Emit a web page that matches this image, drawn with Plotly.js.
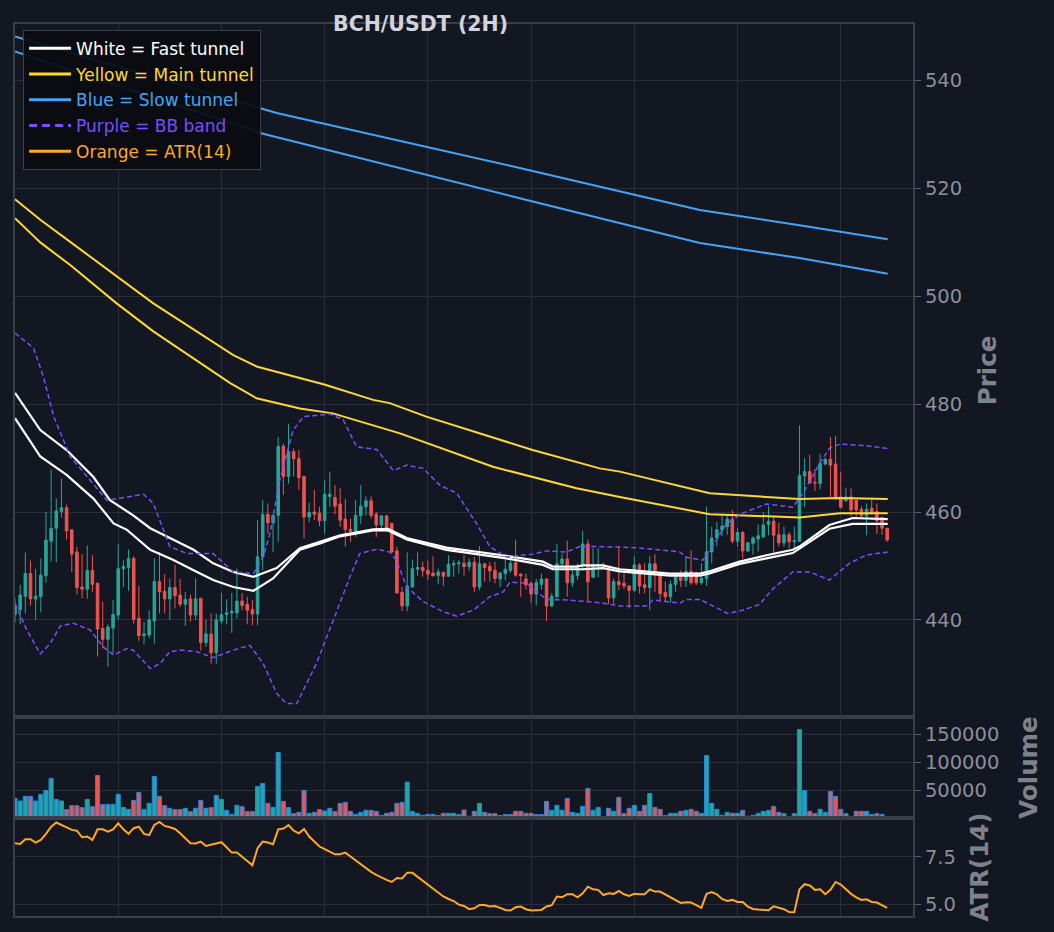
<!DOCTYPE html>
<html>
<head>
<meta charset="utf-8">
<script src="https://cdn.plot.ly/plotly-3.0.1.min.js"></script>
<style>
html,body{margin:0;padding:0;background:#131722;}
#chart{width:1054px;height:932px;}
</style>
</head>
<body>
<div id="chart"></div>
<script>
// ---------- Candles (2H bars, index 0..169) ----------
const openP = [441.0,441.9,444.4,448.6,443.9,444.3,448.2,454.6,457.0,460.1,460.8,456.7,452.6,446.1,445.7,449.2,446.8,438.4,436.4,438.5,440.9,449.5,449.7,451.4,440.3,437.1,437.2,439.8,447.1,445.3,443.9,446.0,444.6,442.9,443.9,440.9,444.0,435.8,437.4,433.9,439.8,441.0,441.3,441.3,443.5,442.9,441.9,441.1,451.7,459.6,458.0,459.4,472.2,466.6,471.2,469.9,466.6,459.1,460.0,459.8,458.4,462.9,462.7,461.5,458.7,456.8,456.4,459.3,461.0,462.1,459.6,457.6,459.3,457.9,452.8,445.1,442.6,446.1,449.4,449.7,449.2,448.7,448.2,448.8,448.1,450.2,450.4,450.5,449.9,450.7,446.1,450.4,449.9,449.2,447.6,448.6,449.2,450.6,448.5,447.6,446.8,444.8,446.6,447.6,442.6,444.3,450.4,451.3,446.9,448.2,450.0,454.1,447.9,450.0,450.2,449.1,444.1,447.1,446.8,446.3,445.5,450.2,446.5,446.0,450.4,448.2,445.1,444.3,446.6,447.9,447.3,449.0,448.8,446.9,447.7,452.6,455.2,456.7,457.3,458.7,454.6,456.2,452.8,454.2,455.0,455.4,457.7,458.3,455.8,454.3,455.8,454.5,454.6,466.7,467.5,465.5,465.3,468.9,469.8,468.9,462.8,462.1,462.8,462.2,460.5,459.3,460.7,460.1,459.0,457.0];
const highP = [444.0,446.5,452.5,451.0,449.5,451.4,460.0,467.9,462.5,466.2,461.4,456.8,453.6,452.2,453.8,452.0,446.9,443.4,439.2,443.7,454.0,451.1,453.1,451.8,446.3,439.6,441.8,451.4,452.6,448.5,447.7,450.2,447.6,445.2,444.7,447.7,444.1,440.1,441.2,441.2,445.0,443.8,445.0,449.5,445.0,444.3,443.7,458.5,462.2,461.6,459.6,473.9,472.7,476.4,471.8,471.5,466.7,461.7,464.1,461.0,465.9,467.5,465.0,464.4,462.4,458.8,462.2,465.0,462.9,462.9,460.0,459.4,459.4,458.0,453.6,446.1,452.5,451.2,452.5,450.8,451.0,451.8,449.5,449.0,452.0,451.1,451.1,452.0,451.4,451.7,453.7,450.5,450.7,450.8,448.9,451.4,451.7,454.9,448.6,448.6,447.1,447.6,448.6,447.7,445.0,454.1,452.3,454.7,450.1,450.5,456.5,454.9,453.3,453.3,450.6,449.5,447.7,453.7,448.6,446.4,451.8,450.5,450.5,451.8,452.2,448.2,447.1,447.3,448.4,449.2,451.8,452.9,448.9,450.5,461.0,457.3,458.2,459.4,459.4,460.4,457.0,456.5,454.5,455.5,457.7,460.0,461.1,459.1,458.0,457.3,456.3,457.3,476.1,470.0,470.6,468.0,470.8,470.0,473.9,474.1,467.5,464.5,464.4,462.2,461.1,461.6,462.4,461.6,459.1,457.0];
const lowP = [439.5,439.2,441.2,442.7,440.0,441.4,446.9,450.8,450.7,459.0,454.9,448.9,444.7,444.0,443.9,445.2,433.2,434.7,431.3,433.8,440.0,446.1,445.4,439.3,436.1,435.5,436.6,435.6,441.2,441.2,440.0,442.1,442.4,438.9,439.7,440.0,434.3,435.0,431.9,431.9,439.2,439.2,437.6,440.3,441.8,439.2,439.0,439.0,449.2,456.0,452.6,454.5,463.2,465.3,466.6,464.1,455.1,458.1,458.5,457.4,456.0,461.0,459.6,457.3,453.6,454.5,455.4,457.8,459.3,458.8,455.4,456.4,456.4,452.5,444.9,441.6,441.6,446.0,448.2,448.0,447.4,448.0,446.6,446.3,448.0,448.0,448.6,448.2,449.1,445.2,445.5,447.1,447.1,446.8,446.1,447.4,448.8,448.0,444.3,445.6,443.1,442.7,445.6,439.8,442.4,443.9,449.2,444.3,446.1,447.4,449.1,443.4,447.9,447.9,449.6,442.9,442.9,445.5,445.7,442.1,445.2,444.9,444.9,441.8,445.2,443.4,443.4,443.2,445.2,446.1,446.1,446.5,446.5,446.5,446.3,450.5,453.6,455.5,455.8,454.2,453.6,451.4,452.6,452.1,452.7,455.2,455.7,452.0,453.6,453.6,453.3,453.3,454.5,460.9,465.3,463.9,464.2,468.7,462.8,462.2,460.7,461.9,459.2,459.1,459.1,455.7,459.5,455.9,455.8,454.5];
const closeP = [442.5,444.6,448.6,443.9,444.4,448.3,454.8,457.0,460.2,460.8,456.5,452.2,446.0,445.7,449.2,446.6,438.3,436.4,438.7,441.0,449.5,449.9,451.4,440.1,437.1,437.4,440.0,447.1,445.2,443.9,446.0,444.5,442.9,443.8,440.9,443.9,435.8,437.4,433.9,440.0,441.0,441.3,441.6,443.5,442.7,441.8,441.1,451.7,459.6,458.0,459.4,472.2,466.6,471.2,469.9,466.4,459.1,459.9,459.6,458.4,463.3,463.3,461.1,458.5,456.8,456.4,459.4,461.1,462.1,459.4,457.6,459.3,456.5,452.6,445.0,442.6,446.3,449.5,449.7,449.1,448.5,448.2,448.9,448.1,450.3,450.5,450.6,449.9,450.7,446.1,450.4,449.7,449.1,447.7,448.7,449.4,450.5,448.3,448.2,446.5,444.8,446.9,447.6,442.6,444.4,450.4,451.3,446.9,448.3,450.0,454.1,447.1,450.0,450.2,450.0,444.1,447.1,446.5,446.3,445.5,450.2,446.3,446.0,450.4,449.1,444.9,444.3,446.6,447.9,447.3,449.0,446.9,446.9,447.7,452.6,455.2,456.7,457.4,458.7,454.6,456.2,452.8,454.3,455.2,455.6,457.6,458.3,455.7,454.3,455.8,454.5,454.7,466.8,467.5,465.4,465.4,469.0,469.8,468.7,462.7,460.9,462.8,460.4,460.4,459.3,460.5,459.9,458.4,457.0,454.8];
const volume = [35100,30400,38700,38700,30400,42300,49400,70800,33300,30400,14900,22000,22000,18500,33300,20200,76200,23800,24400,24400,42300,19000,15500,31500,45800,15500,26200,74400,38700,22000,17300,14900,14900,17300,11300,17300,31500,17300,18500,40500,33300,13700,6500,22600,20200,11300,11300,56500,61900,26200,19000,117300,29800,18500,7700,10100,49400,8300,10100,14900,12500,17300,11300,26200,28000,11900,6500,10100,13700,13700,11900,4800,8300,10100,26200,28000,64300,11900,8300,4800,6500,6500,4200,8300,8300,8300,6000,14300,3000,11900,26200,10100,7700,7700,4200,6000,6000,11900,11900,8300,8300,6000,6000,29800,13700,22600,13700,35100,10100,8300,20800,53000,13700,19000,1800,17300,11900,36900,7700,17300,22600,11900,22600,44000,19000,15500,4200,8300,8300,11900,13700,15500,11900,8300,111900,26200,15500,4800,10100,8300,8300,13700,3000,4800,8300,11900,13700,20800,10100,7700,2400,7700,158300,49400,11900,7700,15500,10100,47600,38700,15500,7700,2400,11900,11900,11900,6000,7700,6000,1200];
const atr14 = [8.22,8.19,8.44,8.44,8.26,8.40,8.72,9.10,9.32,9.19,9.07,8.93,8.89,8.54,8.58,8.40,8.96,8.96,8.84,8.96,9.28,8.96,8.72,9.02,9.10,8.72,8.65,9.19,9.35,9.14,9.07,8.98,8.75,8.49,8.22,8.21,8.31,8.08,8.15,8.22,8.28,8.01,7.73,7.73,7.52,7.29,7.06,7.96,8.31,8.26,8.17,8.96,9.00,9.18,8.89,8.75,8.98,8.58,8.29,8.05,7.91,7.78,7.64,7.64,7.73,7.52,7.31,7.11,6.90,6.71,6.55,6.41,6.29,6.18,6.39,6.36,6.67,6.66,6.46,6.25,6.04,5.85,5.62,5.41,5.28,5.17,4.98,4.91,4.74,4.79,4.96,4.96,4.88,4.91,4.81,4.70,4.67,4.84,4.88,4.74,4.67,4.70,4.70,4.88,4.95,5.41,5.37,5.53,5.53,5.37,5.58,5.93,5.79,5.76,5.49,5.58,5.55,5.70,5.53,5.44,5.55,5.53,5.53,5.79,5.67,5.67,5.53,5.37,5.23,5.07,5.11,5.09,4.96,4.81,5.55,5.65,5.53,5.28,5.18,5.23,5.12,5.12,4.88,4.75,4.72,4.68,4.68,4.89,4.82,4.74,4.59,4.58,5.79,6.06,5.99,5.76,5.79,5.53,5.76,6.18,6.04,5.79,5.55,5.37,5.23,5.26,5.12,5.09,4.96,4.81];

// ---------- Indicator lines (bar index, value) ----------
const fastUpperX = [0,4.9,10,15.2,18.4,22.9,26.2,34.6,38.4,42.3,46.2,50.7,55.2,59.1,63,65.5,69.4,72.3,75.9,83.6,95.2,102.3,104.2,108.8,110,113.9,117.2,119.7,126.9,132.7,134.6,140.4,145.6,150.7,152,157.8,162.3,169.1];
const fastUpper  = [482.1,475.2,471.5,466.5,462.2,459.4,457.0,453.0,450.5,448.9,448.0,449.6,453.3,454.5,455.7,456.1,456.8,456.9,455.2,453.4,451.9,450.8,449.9,449.9,450.1,450.1,449.4,449.2,448.6,448.6,449.0,450.8,452.0,453.0,453.6,457.6,458.9,458.7];
const fastLowerX = [0,4.9,10,15.2,19.1,21.7,26.2,30.7,34.6,38.4,42.3,46.2,50,55.2,59.1,63,69.4,72.3,75.9,83.6,95.2,102.3,104.2,110,113.9,117.2,126.9,132.7,134.6,140.4,145.6,150.7,157.8,162.3,169.1];
const fastLower  = [477.4,470.3,466.9,462.5,457.9,456.7,453.0,451.1,449.2,447.4,446.1,445.4,447.7,453.0,454.2,455.5,456.6,456.6,454.9,453.0,451.4,450.2,449.4,449.4,449.6,449.0,448.2,448.2,448.6,450.4,451.4,452.4,456.9,457.8,457.8];
const mainUpperX = [0,4.9,10.7,19.7,26.8,42.3,46.8,60.1,69.4,72.6,79.7,100.3,113.3,117.2,134.6,152,159.8,169.1];
const mainUpper  = [518.0,514.2,510.1,503.7,498.7,489.1,487.0,483.6,480.8,480.2,477.7,471.5,468.1,467.5,463.5,462.4,462.6,462.4];
const mainLowerX = [0,4.9,10.7,19.7,26.8,41.7,46.8,55.2,61.6,74.6,92.6,108.8,117.2,134.6,152,159.8,169.1];
const mainLower  = [514.5,510.0,505.8,498.7,493.5,483.9,481.1,479.2,478.3,474.6,468.4,464.4,462.8,459.6,459.0,459.8,459.8];
const slowUpperX = [0,50.7,97.8,132.7,152,169.1];
const slowUpper  = [548.2,534.0,523.8,516.0,513.2,510.6];
const slowLowerX = [0,47.5,97.8,132.7,152,169.1];
const slowLower  = [545.4,530.3,518.2,509.9,507.1,504.2];
const bbUpperX = [0,3.6,5.5,7.5,10.7,14.6,17.8,24.9,26.8,30,33.3,38.4,42.3,46.2,48.1,49.4,51.3,53.9,55.9,61,63.6,66.2,70.1,73.3,75.9,79.1,82.3,85.6,89.4,92,95.2,100.4,103,106.9,109.4,113.3,120.4,128.8,130.1,133.3,135.9,137.8,141,145.6,150.7,152.7,155.9,157.8,159.8,164.9,169.1];
const bbUpper  = [493.2,490.4,485.1,477.7,470.3,465.9,462.2,463.3,461.6,453.6,452.3,452.3,448.9,448.6,451.7,456.0,465.9,475.2,477.7,478.2,477.1,472.1,471.6,467.7,468.7,468.1,465.0,463.5,457.9,453.6,451.7,452.2,452.8,452.6,453.6,453.6,453.4,452.6,451.6,451.1,454.8,457.8,459.8,461.5,460.9,463.5,469.0,471.8,472.6,472.3,471.8];
const bbLowerX = [0,2.3,4.9,6.8,8.8,11.3,14.6,17.1,19.1,21.7,22.9,26.2,28.1,30,32,35.2,38.4,42.3,45.5,48.1,50.7,52.6,54.6,58.4,61.7,64.9,66.8,70.1,72.6,73.9,75.9,79.1,83,85.6,88.8,92,94.6,95.9,99.1,100.4,103,106.9,113.3,117.2,122.3,123.6,128.8,130.1,132.7,135.2,138.1,141,144.3,146.9,150.7,154,157.8,161.7,164.9,169.1];
const bbLower  = [443.1,438.1,433.7,435.6,438.9,439.4,438.1,435.0,433.5,434.7,434.4,431.0,431.9,434.1,434.4,434.1,433.0,434.4,435.3,431.9,426.4,424.5,424.5,431.9,440.0,448.0,452.3,453.1,452.6,451.1,446.1,443.4,441.5,440.7,441.8,444.3,445.2,447.0,446.8,445.8,443.8,443.7,443.2,442.6,442.6,443.7,443.1,443.8,443.8,442.6,441.2,441.8,442.9,445.8,448.9,448.9,447.4,450.5,452.0,452.6];

// ---------- Axis ticks / labels ----------
const xGridTicks = [20,40,60,80,100,120,140,160];
const priceTicks = [440,460,480,500,520,540];
const volTicks = [50000,100000,150000];
const volTickText = ['50000','100000','150000'];
const atrTicks = [5.0,7.5];
const atrTickText = ['5.0','7.5'];
const chartTitle = 'BCH/USDT (2H)';
const legendNames = ['White = Fast tunnel','Yellow = Main tunnel','Blue = Slow tunnel','Purple = BB band','Orange = ATR(14)'];

const UP='#26a69a', DN='#ef5350';
const C_WHITE='#ffffff', C_YEL='#fdd835', C_BLUE='#42a5f5', C_PUR='#7c4dff', C_ORA='#ffa726';
const idx = openP.map((_,i)=>i);
const volColors = openP.map((o,i)=> closeP[i]>=o ? UP : DN);

function lbl(t,c){return '<span style="color:'+c+'">'+t+'</span>';}
// legend-only entries (thicker sample lines, as in the reference legend)
function legendEntry(name,color,grp,dash){
  return {type:'scatter', mode:'lines', x:[null], y:[null], xaxis:'x', yaxis:'y', hoverinfo:'skip',
    line:{color:color, width:3, dash:dash||'solid'}, name:lbl(name,color), legendgroup:grp, showlegend:true};
}

const traces = [
  {type:'candlestick', x:idx, open:openP, high:highP, low:lowP, close:closeP,
   xaxis:'x', yaxis:'y', showlegend:false, hoverinfo:'skip', whiskerwidth:0,
   increasing:{line:{color:UP,width:1}, fillcolor:UP},
   decreasing:{line:{color:DN,width:1}, fillcolor:DN}},
  legendEntry(legendNames[0],C_WHITE,'w'),
  {type:'scatter', mode:'lines', x:fastUpperX, y:fastUpper, xaxis:'x', yaxis:'y', line:{color:C_WHITE,width:2.2}, showlegend:false, legendgroup:'w'},
  {type:'scatter', mode:'lines', x:fastLowerX, y:fastLower, xaxis:'x', yaxis:'y', line:{color:C_WHITE,width:2.2}, showlegend:false, legendgroup:'w'},
  legendEntry(legendNames[1],C_YEL,'y'),
  {type:'scatter', mode:'lines', x:mainUpperX, y:mainUpper, xaxis:'x', yaxis:'y', line:{color:C_YEL,width:2}, showlegend:false, legendgroup:'y'},
  {type:'scatter', mode:'lines', x:mainLowerX, y:mainLower, xaxis:'x', yaxis:'y', line:{color:C_YEL,width:2}, showlegend:false, legendgroup:'y'},
  legendEntry(legendNames[2],C_BLUE,'b'),
  {type:'scatter', mode:'lines', x:slowUpperX, y:slowUpper, xaxis:'x', yaxis:'y', line:{color:C_BLUE,width:2}, showlegend:false, legendgroup:'b'},
  {type:'scatter', mode:'lines', x:slowLowerX, y:slowLower, xaxis:'x', yaxis:'y', line:{color:C_BLUE,width:2}, showlegend:false, legendgroup:'b'},
  legendEntry(legendNames[3],C_PUR,'p','8px,5px'),
  {type:'scatter', mode:'lines', x:bbUpperX, y:bbUpper, xaxis:'x', yaxis:'y', line:{color:C_PUR,width:1.5,dash:'5px,3px'}, showlegend:false, legendgroup:'p'},
  {type:'scatter', mode:'lines', x:bbLowerX, y:bbLower, xaxis:'x', yaxis:'y', line:{color:C_PUR,width:1.5,dash:'5px,3px'}, showlegend:false, legendgroup:'p'},
  {type:'bar', x:idx, y:volume, xaxis:'x2', yaxis:'y2', width:0.8, showlegend:false, hoverinfo:'skip',
   marker:{color:volColors, line:{color:'#1e88e5', width:1}}},
  legendEntry(legendNames[4],C_ORA,'o'),
  {type:'scatter', mode:'lines', x:idx, y:atr14, xaxis:'x3', yaxis:'y3', line:{color:C_ORA,width:2}, showlegend:false, legendgroup:'o'}
];

const GRID='#2a2e39', FRAME='#3a3e4a', TICKC='#8b8f99', TITLEC='#7e828c';
function xax(anchor, extra){
  return Object.assign({anchor:anchor, domain:[0,1], range:[0,174], tickvals:xGridTicks, showticklabels:false,
    ticks:'', showgrid:true, gridcolor:GRID, gridwidth:1, zeroline:false,
    showline:true, linecolor:FRAME, linewidth:2, mirror:true, fixedrange:true}, extra||{});
}
function yax(anchor, domain, range, tickvals, ticktext, title, standoff){
  return {anchor:anchor, domain:domain, range:range, side:'right', tickvals:tickvals, ticktext:ticktext,
    ticks:'outside', ticklen:6, tickwidth:1, tickcolor:'#5d616c',
    tickfont:{family:'DejaVu Sans', size:19.5, color:TICKC},
    showgrid:true, gridcolor:GRID, gridwidth:1, zeroline:false,
    showline:true, linecolor:FRAME, linewidth:2, mirror:true,
    title:{text:'<b>'+title+'</b>', font:{family:'DejaVu Sans', size:24.5, color:TITLEC}, standoff:standoff}};
}

const layout = {
  width:1054, height:932,
  paper_bgcolor:'#131722', plot_bgcolor:'#131722',
  margin:{l:15, r:141, t:24, b:16},
  font:{family:'DejaVu Sans', color:TICKC},
  title:{text:'<b>'+chartTitle+'</b>', x:0.4516, xref:'paper', xanchor:'center', y:1-24/932, yref:'container', yanchor:'middle',
    font:{family:'DejaVu Sans', size:20.5, color:'#d1d4dc'}},
  showlegend:true,
  legend:{x:0.009, y:0.9935, xanchor:'left', yanchor:'top', bgcolor:'rgba(10,12,17,0.93)', bordercolor:'#3a3e4a', borderwidth:1,
    font:{family:'DejaVu Sans', size:17, color:'#ffffff'}, traceorder:'grouped', tracegroupgap:0.6, itemwidth:42},
  xaxis: xax('y', {rangeslider:{visible:false}}),
  xaxis2: xax('y2', {matches:'x'}),
  xaxis3: xax('y3', {matches:'x'}),
  yaxis: yax('x', [0.2231,1], [422.0,550.5], priceTicks, priceTicks.map(String), 'Price', 18),
  yaxis2: yax('x2', [0.1099,0.2231], [0,181000], volTicks, volTickText, 'Volume', 22),
  yaxis3: yax('x3', [0,0.1099], [4.38,9.56], atrTicks, atrTickText, 'ATR(14)', 16),
  bargap:0.2
};

Plotly.newPlot('chart', traces, layout, {displayModeBar:false, staticPlot:true});
</script>
</body>
</html>
